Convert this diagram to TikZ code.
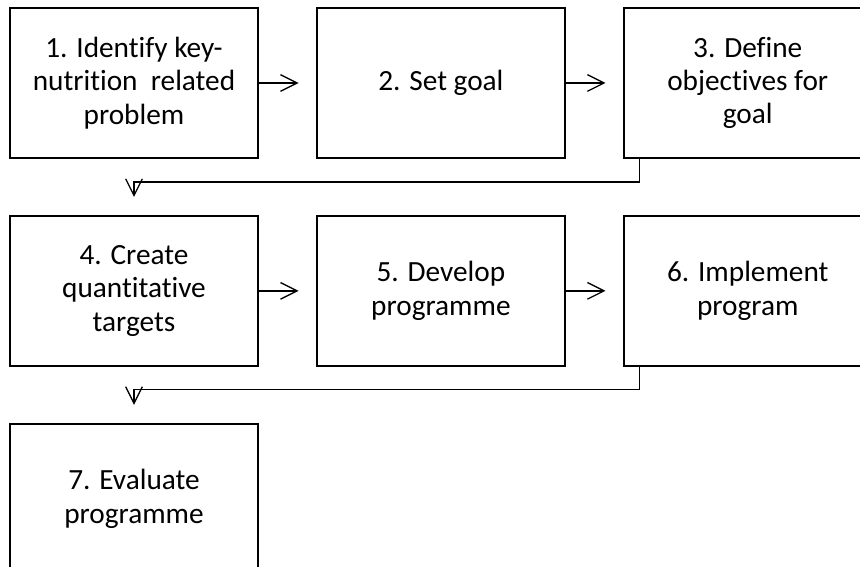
\documentclass[tikz,border=0pt]{standalone}
\usepackage{fontspec}
\setmainfont{Carlito}[Ligatures=NoCommon]
\usepackage{tikz}
\usetikzlibrary{arrows.meta, positioning}

\begin{document}
\begin{tikzpicture}[
  stepbox/.style={draw, line width=1.6pt, minimum width=7.44cm, minimum height=4.5cm,
    inner sep=0pt, align=center, font=\fontsize{25}{28.5}\selectfont},
  flow/.style={line width=1.1pt, -{Straight Barb[length=0.5cm,width=0.5cm]}},
  node distance=1.68cm and 1.71cm]
  \useasboundingbox (0,0) rectangle (25.8,17.01);
  \clip (0,0) rectangle (25.8,17.01);
  % row 1
  \node[stepbox] (s1) at (4.02,14.52) {1. Identify key-\\nutrition~ related\\problem};
  \node[stepbox, right=of s1] (s2) {2. Set goal};
  \node[stepbox, right=of s2] (s3) {3. Define\\objectives for\\goal};
  % row 2
  \node[stepbox, below=of s1] (s4) {4. Create\\quantitative\\targets};
  \node[stepbox, right=of s4] (s5) {5. Develop\\programme};
  \node[stepbox, right=of s5] (s6) {6. Implement\\program};
  % row 3
  \node[stepbox, below=of s4] (s7) {7. Evaluate\\programme};
  % arrows
  \draw[flow, shorten >=0.52cm] (s1) -- (s2);
  \draw[flow, shorten >=0.52cm] (s2) -- (s3);
  \draw[flow, shorten >=0.52cm] (s4) -- (s5);
  \draw[flow, shorten >=0.52cm] (s5) -- (s6);
  \draw[flow, shorten >=0.54cm] ([xshift=0.51cm]s3.south west) -- ++(0,-0.69) -| (s4.north);
  \draw[flow, shorten >=0.54cm] ([xshift=0.51cm]s6.south west) -- ++(0,-0.69) -| (s7.north);
\end{tikzpicture}
\end{document}
